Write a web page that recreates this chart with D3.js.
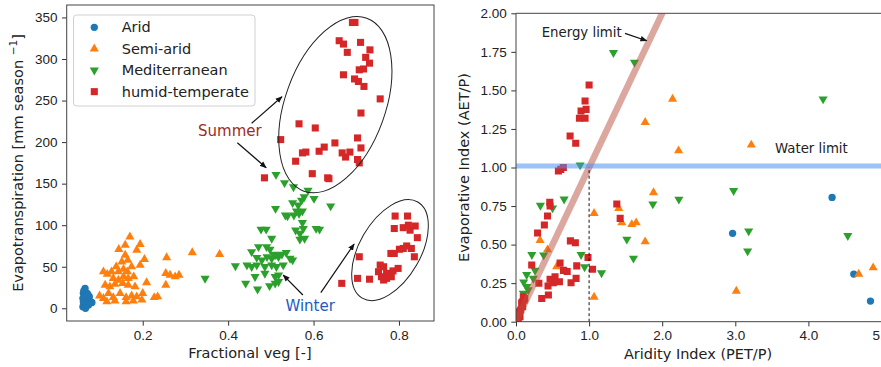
<!DOCTYPE html>
<html>
<head>
<meta charset="utf-8">
<script src="https://cdn.jsdelivr.net/npm/d3@7"></script>
<style>
  body { margin: 0; background: #fff; }
  svg { font-family: "DejaVu Sans", sans-serif; }
</style>
</head>
<body>
<svg id="chart" width="881" height="367"></svg>
<script>
// ---- left panel data: [fractional veg, ET (mm/season)]
const leftArid = [[0.065,24],[0.070,18],[0.061,18],[0.060,12],[0.069,10],[0.077,8],[0.081,7],[0.063,6],
  [0.060,2],[0.068,3],[0.073,4],[0.065,14],[0.071,12],[0.061,8],[0.075,14],[0.066,0],[0.062,21],[0.072,16]]
const leftSemi = [[0.170,86],[0.159,76],[0.144,71],[0.194,77],[0.186,70],[0.159,64],[0.165,58],[0.151,56],
  [0.204,59],[0.194,52],[0.138,50],[0.127,44],[0.143,44],[0.155,47],[0.164,44],[0.174,50],[0.108,44],
  [0.117,41],[0.131,36],[0.143,34],[0.155,38],[0.166,36],[0.179,38],[0.112,28],[0.123,26],[0.135,29],
  [0.153,30],[0.166,28],[0.182,26],[0.099,15],[0.108,12],[0.120,18],[0.131,13],[0.147,18],[0.161,13],
  [0.174,15],[0.186,14],[0.116,8],[0.135,9],[0.161,8],[0.178,9],[0.198,10],[0.200,18],[0.209,31],
  [0.227,13],[0.235,14],[0.256,61],[0.254,42],[0.264,40],[0.276,38],[0.285,40],[0.254,28],[0.316,67],[0.380,65]]
const leftMed = [[0.512,161],[0.532,151],[0.553,146],[0.587,142],[0.601,132],[0.578,134],[0.572,130],[0.640,123],
  [0.551,127],[0.564,124],[0.560,117],[0.574,117],[0.554,112],[0.566,114],[0.511,120],[0.534,112],[0.539,111],
  [0.574,103],[0.606,96],[0.614,95],[0.558,94],[0.576,96],[0.568,90],[0.477,95],[0.489,95],[0.502,84],
  [0.568,83],[0.579,84],[0.455,68],[0.471,74],[0.490,74],[0.498,71],[0.506,65],[0.515,64],[0.526,65],
  [0.536,67],[0.545,60],[0.551,58],[0.467,61],[0.479,58],[0.491,62],[0.502,60],[0.510,64],[0.518,62],
  [0.417,51],[0.444,52],[0.455,50],[0.467,52],[0.486,50],[0.502,52],[0.513,50],[0.529,52],[0.463,38],
  [0.486,42],[0.510,38],[0.518,40],[0.441,30],[0.469,23],[0.497,27],[0.510,30],[0.518,32],[0.346,36]]
const leftHumid = [[0.691,344],[0.697,344],[0.660,322],[0.670,318],[0.710,320],[0.732,311],[0.679,308],
  [0.722,302],[0.731,295],[0.717,288],[0.707,287],[0.670,281],[0.696,276],[0.705,273],[0.718,267],
  [0.756,252],[0.711,235],[0.566,222],[0.604,217],[0.523,203],[0.703,205],[0.711,193],[0.650,199],
  [0.625,194],[0.613,189],[0.574,187],[0.582,188],[0.558,177],[0.667,187],[0.685,188],[0.675,182],
  [0.703,179],[0.707,175],[0.597,162],[0.633,157],[0.636,156],[0.485,157],
  // winter
  [0.791,111],[0.820,111],[0.789,96],[0.810,97],[0.826,94],[0.838,99],[0.822,100],[0.843,85],[0.818,75],
  [0.810,72],[0.801,71],[0.829,72],[0.781,66],[0.789,66],[0.836,62],[0.707,62],[0.756,52],[0.764,50],
  [0.752,44],[0.771,42],[0.759,38],[0.775,40],[0.786,45],[0.798,48],[0.782,38],[0.703,36],[0.731,35],
  [0.764,34],[0.771,36],[0.666,30]]

// ---- right panel data: [aridity index, evaporative index]
const rightArid = [[2.963,0.573],[4.324,0.806],[4.621,0.309],[4.849,0.134]]
const rightSemi = [[2.142,1.444],[1.767,1.293],[2.224,1.109],[3.219,1.146],[1.881,0.837],[1.068,0.703],
  [1.406,0.735],[1.447,0.642],[1.584,0.631],[1.644,0.642],[1.767,0.519],[0.329,0.528],[0.431,0.467],
  [0.556,0.357],[1.068,0.160],[3.014,0.199],[4.689,0.309],[4.886,0.350]]
const rightMed = [[1.333,1.745],[1.621,1.682],[0.877,1.016],[0.658,0.795],[0.334,0.754],[0.500,0.737],
  [0.217,0.435],[0.378,0.432],[0.890,0.435],[0.938,0.355],[1.170,0.316],[0.260,0.333],[0.146,0.305],
  [0.237,0.281],[0.105,0.257],[0.146,0.227],[0.168,0.206],[0.100,0.184],[1.516,0.534],[1.607,0.411],
  [1.872,0.763],[2.228,0.794],[2.977,0.850],[3.183,0.588],[3.169,0.458],[4.201,1.444],[4.539,0.558]]
const rightHumid = [[1.000,1.535],[0.945,1.431],[0.959,1.377],[0.890,1.366],[0.945,1.319],[0.868,1.319],
  [0.740,1.204],[0.817,1.157],[0.648,1.000],[0.612,0.988],[0.580,0.977],[1.379,0.763],[1.425,0.670],
  [0.462,0.775],[0.466,0.750],[0.431,0.686],[0.388,0.627],[0.295,0.575],[0.744,0.524],[0.812,0.512],
  [0.215,0.368],[0.603,0.380],[0.650,0.333],[0.700,0.326],[0.831,0.362],[0.985,0.416],[1.047,0.340],
  [0.313,0.249],[0.466,0.275],[0.534,0.292],[0.594,0.259],[0.511,0.253],[0.438,0.231],[0.443,0.173],
  [0.352,0.151],[0.753,0.253],[0.822,0.281],
  [0.046,0.054],[0.064,0.076],[0.091,0.097],[0.078,0.119],[0.110,0.140],[0.055,0.032],[0.032,0.022],
  [0.023,0.043],[0.100,0.162],[0.120,0.150],[0.015,0.010],[0.040,0.065],[0.085,0.128]]

const classNames = ['Arid', 'Semi-arid', 'Mediterranean', 'humid-temperate']
const classColors = ['#1f77b4', '#ff7f0e', '#2ca02c', '#d62728']
const leftYTicks = [0, 50, 100, 150, 200, 250, 300, 350]
const leftXTicks = [0.2, 0.4, 0.6, 0.8]
const rightYTicks = [0, 0.25, 0.5, 0.75, 1.0, 1.25, 1.5, 1.75, 2.0]
const rightXTicks = [0, 1, 2, 3, 4, 5]

const svg = d3.select('#chart')

// marker shapes per class
const symbols = [
  { type: d3.symbolCircle, size: 42, rot: 0 },
  { type: d3.symbolTriangle, size: 36, rot: 0 },
  { type: d3.symbolTriangle, size: 36, rot: 180 },
  { type: d3.symbolSquare, size: 50, rot: 0 }
]

function drawPoints(g, data, cls, x, y) {
  var s = symbols[cls]
  g.selectAll(null)
    .data(data)
    .enter().append('path')
    .attr('d', d3.symbol(s.type, s.size))
    .attr('transform', function (d) {
      return 'translate(' + x(d[0]) + ',' + y(d[1]) + ') rotate(' + s.rot + ')'
    })
    .style('fill', classColors[cls])
}

function styleAxis(g) {
  g.selectAll('.domain').remove()
  g.selectAll('.tick line').attr('stroke', '#333').attr('stroke-width', 1)
  g.selectAll('.tick text').attr('font-size', '13.5px').attr('fill', '#222')
}

// arrow head
svg.append('defs').append('marker')
  .attr('id', 'arrow')
  .attr('viewBox', '0 0 10 10')
  .attr('refX', 9).attr('refY', 5)
  .attr('markerWidth', 7).attr('markerHeight', 7)
  .attr('markerUnits', 'userSpaceOnUse')
  .attr('orient', 'auto')
  .append('path')
  .attr('d', 'M0,1 L10,5 L0,9 Z')
  .attr('fill', '#111')

function arrow(g, x1, y1, x2, y2) {
  g.append('line')
    .attr('x1', x1).attr('y1', y1).attr('x2', x2).attr('y2', y2)
    .attr('stroke', '#111').attr('stroke-width', 1.2)
    .attr('marker-end', 'url(#arrow)')
}

/** ---------------- left panel ---------------- */
var xL = d3.scaleLinear().domain([0.022, 0.882]).range([66.7, 434])
var yL = d3.scaleLinear().domain([-15.3, 365]).range([321, 5])

var left = svg.append('g')

left.append('g')
  .attr('transform', 'translate(0,321)')
  .call(d3.axisBottom(xL).tickValues(leftXTicks).tickFormat(d3.format('.1f')).tickSize(4.7).tickPadding(4.5))
  .call(styleAxis)

left.append('g')
  .attr('transform', 'translate(66.7,0)')
  .call(d3.axisLeft(yL).tickValues(leftYTicks).tickSize(4.7).tickPadding(4.5))
  .call(styleAxis)

drawPoints(left, leftArid, 0, xL, yL)
drawPoints(left, leftSemi, 1, xL, yL)
drawPoints(left, leftMed, 2, xL, yL)
drawPoints(left, leftHumid, 3, xL, yL)

// ellipses round summer and winter groups
left.append('ellipse')
  .attr('transform', 'translate(' + xL(0.651) + ',' + yL(245) + ') rotate(20)')
  .attr('rx', 50).attr('ry', 92)
  .attr('fill', 'none').attr('stroke', '#222').attr('stroke-width', 1)
left.append('ellipse')
  .attr('transform', 'translate(' + xL(0.779) + ',' + yL(70) + ') rotate(30)')
  .attr('rx', 30.5).attr('ry', 55.5)
  .attr('fill', 'none').attr('stroke', '#222').attr('stroke-width', 1)

left.append('text')
  .attr('x', xL(0.404)).attr('y', yL(213.4) + 5.5)
  .attr('text-anchor', 'middle')
  .attr('font-size', '15px')
  .attr('fill', '#9c2e22')
  .text('Summer')
arrow(left, xL(0.455), yL(222.6), xL(0.526), yL(254.6))
arrow(left, xL(0.4215), yL(199.3), xL(0.489), yL(169.2))

left.append('text')
  .attr('x', xL(0.592)).attr('y', yL(2.8) + 5.5)
  .attr('text-anchor', 'middle')
  .attr('font-size', '15px')
  .attr('fill', '#2459c4')
  .text('Winter')
arrow(left, xL(0.575), yL(16), xL(0.529), yL(40))
arrow(left, xL(0.617), yL(18.8), xL(0.695), yL(77.4))

// frame
left.append('rect')
  .attr('x', 66.7).attr('y', 5).attr('width', 434 - 66.7).attr('height', 316)
  .attr('fill', 'none').attr('stroke', '#444').attr('stroke-width', 1)

// legend
var legend = left.append('g')
legend.append('rect')
  .attr('x', 73.5).attr('y', 15).attr('width', 181.5).attr('height', 91).attr('rx', 3)
  .attr('fill', '#fff').attr('fill-opacity', 0.8)
  .attr('stroke', '#d0d0d0').attr('stroke-width', 1)
classNames.forEach(function (name, i) {
  var s = symbols[i]
  var yy = 27.3 + i * 21.45
  legend.append('path')
    .attr('d', d3.symbol(s.type, s.size))
    .attr('transform', 'translate(94.3,' + yy + ') rotate(' + s.rot + ')')
    .style('fill', classColors[i])
  legend.append('text')
    .attr('x', 121.7).attr('y', yy + 5)
    .attr('font-size', '14.5px').attr('fill', '#222')
    .text(name)
})

left.append('text')
  .attr('x', 250).attr('y', 358)
  .attr('text-anchor', 'middle').attr('font-size', '14.5px').attr('fill', '#222')
  .text('Fractional veg [-]')

var yLab = left.append('text')
  .attr('transform', 'translate(22.5,163) rotate(-90)')
  .attr('text-anchor', 'middle').attr('font-size', '14.5px').attr('fill', '#222')
yLab.append('tspan').text('Evapotranspiration [mm season ')
yLab.append('tspan').attr('dy', -6).attr('font-size', '10.5px').text('\u22121')
yLab.append('tspan').attr('dy', 6).text(']')

/** ---------------- right panel ---------------- */
var xR = d3.scaleLinear().domain([0, 5.2]).range([516, 516 + 73.1 * 5.2])
var yR = d3.scaleLinear().domain([0, 2]).range([321.7, 13.3])

var right = svg.append('g')

right.append('clipPath').attr('id', 'clipR')
  .append('rect').attr('x', 516).attr('y', 13.3).attr('width', 400).attr('height', 308.4)

right.append('g')
  .attr('transform', 'translate(0,321.7)')
  .call(d3.axisBottom(xR).tickValues(rightXTicks).tickSize(4.7).tickPadding(4.5))
  .call(styleAxis)

right.append('g')
  .attr('transform', 'translate(516,0)')
  .call(d3.axisLeft(yR).tickValues(rightYTicks).tickFormat(d3.format('.2f')).tickSize(4.7).tickPadding(4.5))
  .call(styleAxis)

var plotR = right.append('g').attr('clip-path', 'url(#clipR)')
drawPoints(plotR, rightArid, 0, xR, yR)
drawPoints(plotR, rightSemi, 1, xR, yR)
drawPoints(plotR, rightMed, 2, xR, yR)
drawPoints(plotR, rightHumid, 3, xR, yR)

// energy limit (AET = PET) and water limit (AET = P)
plotR.append('line')
  .attr('x1', xR(0)).attr('y1', yR(0)).attr('x2', xR(2.1)).attr('y2', yR(2.1))
  .attr('stroke', '#b8503e').attr('stroke-opacity', 0.5).attr('stroke-width', 6.5)
plotR.append('line')
  .attr('x1', xR(0)).attr('y1', yR(1.01)).attr('x2', xR(5.2)).attr('y2', yR(1.01))
  .attr('stroke', '#4a8ff0').attr('stroke-opacity', 0.55).attr('stroke-width', 5)
plotR.append('line')
  .attr('x1', xR(1)).attr('y1', yR(0)).attr('x2', xR(1)).attr('y2', yR(1))
  .attr('stroke', '#111').attr('stroke-width', 1).attr('stroke-dasharray', '3,2.5')

right.append('text')
  .attr('x', xR(1.446)).attr('y', yR(1.877) + 4.7)
  .attr('text-anchor', 'end').attr('font-size', '13.3px').attr('fill', '#222')
  .text('Energy limit')
arrow(right, xR(1.491), yR(1.870), xR(1.788), yR(1.822))

right.append('text')
  .attr('x', xR(3.543)).attr('y', yR(1.125) + 4.7)
  .attr('font-size', '13.3px').attr('fill', '#222')
  .text('Water limit')

// spines
right.append('path')
  .attr('d', 'M900,13.3 H516 V321.7 H900')
  .attr('fill', 'none').attr('stroke', '#444').attr('stroke-width', 1)

right.append('text')
  .attr('x', 698).attr('y', 359)
  .attr('text-anchor', 'middle').attr('font-size', '14.5px').attr('fill', '#222')
  .text('Aridity Index (PET/P)')

right.append('text')
  .attr('transform', 'translate(468.5,167.5) rotate(-90)')
  .attr('text-anchor', 'middle').attr('font-size', '14.5px').attr('fill', '#222')
  .text('Evaporative Index (AET/P)')
</script>
</body>
</html>
